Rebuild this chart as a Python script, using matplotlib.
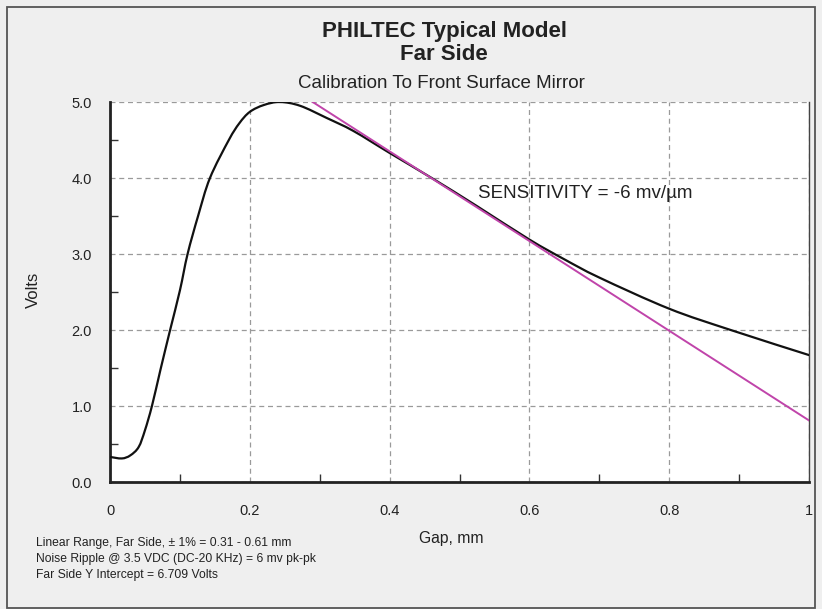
import matplotlib
matplotlib.use("Agg")
import matplotlib.pyplot as plt
from matplotlib.ticker import MultipleLocator, FixedLocator
from matplotlib.patches import Rectangle, PathPatch
from matplotlib.path import Path

plt.rcParams['font.family'] = ['Liberation Sans', 'DejaVu Sans']

# Data
gap_mm = [0.000, 0.017, 0.029, 0.041, 0.050, 0.060, 0.072, 0.086, 0.100, 0.111,
          0.126, 0.143, 0.170, 0.185, 0.200, 0.220, 0.243, 0.272, 0.310, 0.348,
          0.400, 0.462, 0.525, 0.600, 0.650, 0.700, 0.800, 0.888, 1.000]
volts = [0.33, 0.31, 0.35, 0.46, 0.68, 1.00, 1.47, 2.00, 2.52, 3.00,
         3.50, 4.00, 4.50, 4.72, 4.87, 4.96, 5.00, 4.95, 4.79, 4.62,
         4.33, 3.99, 3.63, 3.19, 2.93, 2.69, 2.28, 2.00, 1.67]

fit_gap = [0.290, 1.000]
fit_volts = [5.00, 0.81]

x_ticks = [0, 0.2, 0.4, 0.6, 0.8, 1.0]
x_ticklabels = ['0', '0.2', '0.4', '0.6', '0.8', '1']
y_ticks = [0, 1, 2, 3, 4, 5]
y_ticklabels = ['0.0', '1.0', '2.0', '3.0', '4.0', '5.0']

title1 = 'PHILTEC Typical Model'
title2 = 'Far Side'
subtitle = 'Calibration To Front Surface Mirror'
annotation = 'SENSITIVITY = -6 mv/\u00b5m'
notes = ['Linear Range, Far Side, \u00b1 1% = 0.31 - 0.61 mm',
         'Noise Ripple @ 3.5 VDC (DC-20 KHz) = 6 mv pk-pk',
         'Far Side Y Intercept = 6.709 Volts']


def smooth_path(xs, ys):
    """Smoothed line through the points (Catmull-Rom as cubic Bezier segments)."""
    verts = [(xs[0], ys[0])]
    codes = [Path.MOVETO]
    n = len(xs)
    for i in range(n - 1):
        x0, y0 = (xs[i - 1], ys[i - 1]) if i > 0 else (xs[i], ys[i])
        x1, y1 = xs[i], ys[i]
        x2, y2 = xs[i + 1], ys[i + 1]
        x3, y3 = (xs[i + 2], ys[i + 2]) if i + 2 < n else (x2, y2)
        c1 = (x1 + (x2 - x0) / 6.0, y1 + (y2 - y0) / 6.0)
        c2 = (x2 - (x3 - x1) / 6.0, y2 - (y3 - y1) / 6.0)
        verts += [c1, c2, (x2, y2)]
        codes += [Path.CURVE4] * 3
    return Path(verts, codes)


W, H = 822, 609
fig = plt.figure(figsize=(W / 100, H / 100), dpi=100, facecolor='#efefef')

# outer border
fig.patches.append(Rectangle((7 / W, 1 - 608 / H), (815 - 7) / W, (608 - 7) / H,
                             transform=fig.transFigure, fill=False,
                             edgecolor='#555555', linewidth=1.3))

left, right, top, bottom = 110, 809, 102, 482
ax = fig.add_axes([left / W, 1 - bottom / H, (right - left) / W, (bottom - top) / H])
ax.set_facecolor('white')

curve = PathPatch(smooth_path(gap_mm, volts), facecolor='none', edgecolor='#111111',
                  lw=1.6, zorder=3, capstyle='round', joinstyle='round')
ax.add_patch(curve)
ax.plot(fit_gap, fit_volts, color='#c044aa', lw=1.4, zorder=4)

ax.set_xlim(0, 1)
ax.set_ylim(0, 5)
ax.xaxis.set_major_locator(FixedLocator(x_ticks))
ax.set_xticklabels(x_ticklabels)
ax.yaxis.set_major_locator(FixedLocator(y_ticks))
ax.set_yticklabels(y_ticklabels)
ax.xaxis.set_minor_locator(MultipleLocator(0.1))
ax.yaxis.set_minor_locator(MultipleLocator(0.5))

ax.grid(True, which='major', color='#9a9a9a', linestyle=(0, (4, 3)), linewidth=0.9)
ax.tick_params(which='both', direction='in', colors='#333333', labelcolor='#222222',
               labelsize=10.5)
ax.tick_params(which='minor', length=6, width=1)
ax.tick_params(which='major', length=0)
ax.tick_params(axis='x', which='major', pad=16)
ax.tick_params(axis='y', which='major', pad=13)

for s in ['left', 'bottom']:
    ax.spines[s].set_color('#222222')
    ax.spines[s].set_linewidth(2)
ax.spines['top'].set_visible(False)
ax.spines['right'].set_color('#444444')
ax.spines['right'].set_linewidth(1)

ax.set_xlabel('Gap, mm', fontsize=11.3, color='#222222', va='center')
ax.xaxis.set_label_coords((451 - left) / (right - left), -(538 - bottom) / (bottom - top))
ax.set_ylabel('Volts', fontsize=12, color='#222222', va='center')
ax.yaxis.set_label_coords((33 - left) / (right - left), (bottom - 290) / (bottom - top))

ax.text(0.5265, 3.79, annotation, fontsize=13.5, color='#222222', va='center', ha='left')

fig.text(444 / W, 1 - 31 / H, title1, ha='center', va='center', fontsize=16,
         fontweight='bold', color='#222222')
fig.text(444 / W, 1 - 55 / H, title2, ha='center', va='center', fontsize=16,
         fontweight='bold', color='#222222')
fig.text(441 / W, 1 - 83 / H, subtitle, ha='center', va='center', fontsize=13.5,
         color='#222222')

for i, line in enumerate(notes):
    fig.text(36 / W, 1 - (543 + 16 * i) / H, line, ha='left', va='center',
             fontsize=8.7, color='#222222')

fig.savefig('out.png', dpi=100, facecolor=fig.get_facecolor())
